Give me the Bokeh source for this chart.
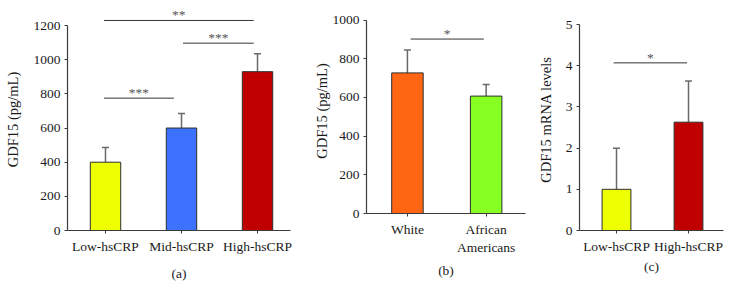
from bokeh.plotting import figure
from bokeh.layouts import row
from bokeh.models import (ColumnDataSource, Range1d, FixedTicker, Whisker, TeeHead)
from bokeh.core.properties import value
from bokeh.embed import file_html
from bokeh.resources import INLINE

# ---------------- data ----------------
a_categories = ["Low-hsCRP", "Mid-hsCRP", "High-hsCRP"]
a_values = [400, 600, 930]
a_errors = [86, 85, 105]
a_colors = ["#EEFF00", "#3D72FF", "#C00000"]
a_yticks = [0, 200, 400, 600, 800, 1000, 1200]
a_sig_from = [0.98, 2.02, 0.98]
a_sig_to = [1.90, 2.95, 2.95]
a_sig_y = [775, 1097, 1230]
a_sig_text = ["***", "***", "**"]

b_categories = ["White", "African\nAmericans"]
b_values = [727, 607]
b_errors = [118, 60]
b_colors = ["#FF6614", "#88FF22"]
b_yticks = [0, 200, 400, 600, 800, 1000]
b_sig_from = [1.04]
b_sig_to = [1.97]
b_sig_y = [902]
b_sig_text = ["*"]

c_categories = ["Low-hsCRP", "High-hsCRP"]
c_values = [1.0, 2.63]
c_errors = [1.0, 1.0]
c_colors = ["#EEFF00", "#C00000"]
c_yticks = [0, 1, 2, 3, 4, 5]
c_sig_from = [0.96]
c_sig_to = [1.98]
c_sig_y = [4.07]
c_sig_text = ["*"]

FONT = "Liberation Serif"
AXIS_COLOR = "#3a3a3a"
TEXT_COLOR = "#1a1a1a"


def panel(cats, vals, errs, colors, yticks, sig_from, sig_to, sig_y, sig_text,
          x_start, x_end, y_end, frame_w, frame_h, bl, br, bb, ylabel, letter,
          letter_standoff, ylabel_standoff, bar_w=0.40):
    p = figure(output_backend="svg", toolbar_location=None,
               frame_width=frame_w, frame_height=frame_h,
               x_range=Range1d(x_start, x_end), y_range=Range1d(0, y_end),
               min_border_left=bl, min_border_right=br, min_border_top=8,
               min_border_bottom=bb)
    xs = list(range(1, len(cats) + 1))
    src = ColumnDataSource(dict(x=xs, top=vals, color=colors,
                                upper=[v + e for v, e in zip(vals, errs)]))
    p.vbar(x="x", top="top", width=bar_w, bottom=0, fill_color="color",
           line_color="#2e2e2e", line_width=1, source=src)
    w = Whisker(base="x", lower="top", upper="upper", source=src,
                dimension="height", line_color="#6a6a6a", line_width=1.5,
                upper_head=TeeHead(size=7, line_color="#6a6a6a", line_width=1.5),
                lower_head=None)
    p.add_layout(w)
    # significance brackets
    ssrc = ColumnDataSource(dict(x0=sig_from, x1=sig_to, y=sig_y, t=sig_text,
                                 xm=[(a + b) / 2 for a, b in zip(sig_from, sig_to)]))
    p.segment(x0="x0", x1="x1", y0="y", y1="y", line_color="#333333",
              line_width=1, source=ssrc)
    p.text(x="xm", y="y", text="t", text_align="center", text_baseline="bottom",
           y_offset=2, text_font=value(FONT), text_font_size="13.5px",
           text_color="#555555", source=ssrc)

    p.xgrid.visible = False
    p.ygrid.visible = False
    p.outline_line_color = None

    p.yaxis.ticker = FixedTicker(ticks=yticks)
    p.yaxis.bounds = (yticks[0], yticks[-1])
    p.xaxis.ticker = FixedTicker(ticks=xs)
    p.xaxis.major_label_overrides = {x: c for x, c in zip(xs, cats)}
    for ax in (p.xaxis[0], p.yaxis[0]):
        ax.axis_line_color = AXIS_COLOR
        ax.axis_line_width = 1.2
        ax.major_tick_line_color = AXIS_COLOR
        ax.major_tick_out = 3
        ax.major_tick_in = 0
        ax.minor_tick_line_color = None
        ax.major_label_text_font = FONT
        ax.major_label_text_font_size = "13.5px"
        ax.major_label_text_color = TEXT_COLOR
        ax.axis_label_text_font = FONT
        ax.axis_label_text_font_size = "13.5px"
        ax.axis_label_text_font_style = "normal"
        ax.axis_label_text_color = TEXT_COLOR
    p.yaxis.axis_label_text_font_size = "14.5px"
    p.yaxis.major_label_standoff = 4
    p.xaxis.major_label_standoff = 5
    p.yaxis.axis_label = ylabel
    p.yaxis.axis_label_standoff = ylabel_standoff
    p.xaxis.axis_label = letter
    p.xaxis.axis_label_standoff = letter_standoff
    return p


pa = panel(a_categories, a_values, a_errors, a_colors, a_yticks,
           a_sig_from, a_sig_to, a_sig_y, a_sig_text,
           x_start=0.5, x_end=3.434, y_end=1300, frame_w=223, frame_h=222,
           bl=67, br=10, bb=59, ylabel="GDF15 (pg/mL)", letter="(a)",
           letter_standoff=9, ylabel_standoff=10)
pb = panel(b_categories, b_values, b_errors, b_colors, b_yticks,
           b_sig_from, b_sig_to, b_sig_y, b_sig_text,
           x_start=0.48, x_end=2.50, y_end=1060, frame_w=159, frame_h=205,
           bl=66, br=5, bb=76, ylabel="GDF15 (pg/mL)", letter="(b)",
           letter_standoff=5, ylabel_standoff=0)
pc = panel(c_categories, c_values, c_errors, c_colors, c_yticks,
           c_sig_from, c_sig_to, c_sig_y, c_sig_text,
           x_start=0.486, x_end=2.486, y_end=5.39, frame_w=144, frame_h=222,
           bl=49, br=1, bb=59, ylabel="GDF15 mRNA levels", letter="(c)",
           letter_standoff=2, ylabel_standoff=9)

layout = row(pa, pb, pc, spacing=0)
open("out.html", "w").write(file_html(layout, INLINE))
